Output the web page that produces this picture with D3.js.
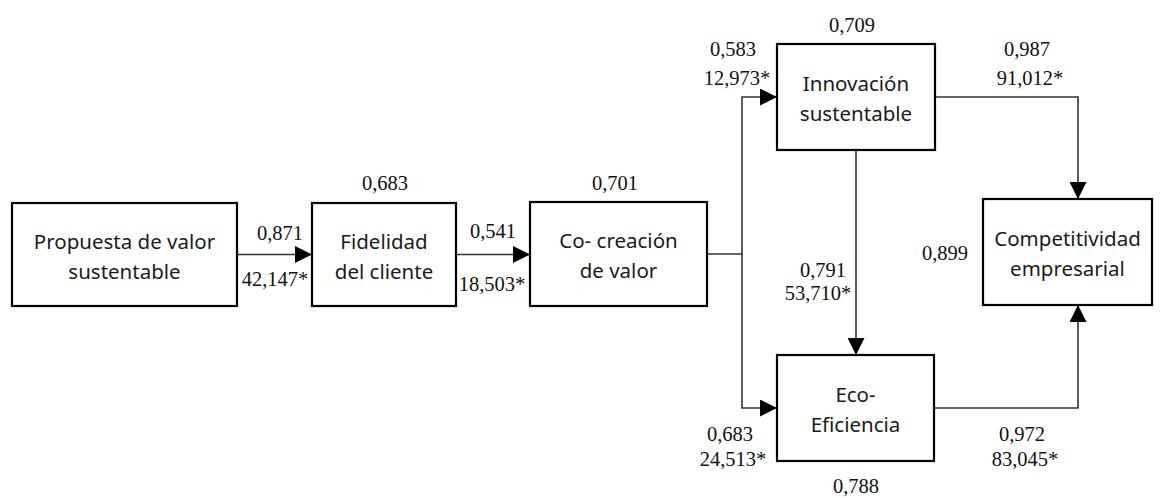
<!DOCTYPE html>
<html>
<head>
<meta charset="utf-8">
<script src="https://cdn.jsdelivr.net/npm/d3@7"></script>
<style>
	body { margin: 0; background: #fff; }
	svg { display: block; }
</style>
</head>
<body>
<div id="chart"></div>
<script>
/* global d3 */

// constructs (latent variables)
var nodeIds = ["prop", "fid", "cocre", "innov", "eco", "comp"];
var nodeLabels = [
	["Propuesta de valor", "sustentable"],
	["Fidelidad", "del cliente"],
	["Co- creación", "de valor"],
	["Innovación", "sustentable"],
	["Eco-", "Eficiencia"],
	["Competitividad", "empresarial"]
];
// R² of each construct (none for the exogenous one)
var r2Values = [null, 0.683, 0.701, 0.709, 0.788, 0.899];

// structural paths
var pathFrom = ["prop", "fid", "cocre", "cocre", "innov", "innov", "eco"];
var pathTo   = ["fid", "cocre", "innov", "eco", "eco", "comp", "comp"];
var pathBeta = [0.871, 0.541, 0.583, 0.683, 0.791, 0.987, 0.972];
var pathT    = [42.147, 18.503, 12.973, 24.513, 53.710, 91.012, 83.045];

// ---- layout (kept apart from the data) ----
var width = 1166, height = 498;

var boxes = {
	prop:  {x: 12,  y: 203, w: 225, h: 103},
	fid:   {x: 312, y: 203, w: 144, h: 103},
	cocre: {x: 530, y: 202, w: 177, h: 104},
	innov: {x: 777, y: 44,  w: 158, h: 106},
	eco:   {x: 777, y: 355, w: 157, h: 106},
	comp:  {x: 983, y: 199, w: 169, h: 106}
};

// where each R² label sits
var r2Pos = {
	fid:   {x: 385, y: 183},
	cocre: {x: 615, y: 183},
	innov: {x: 852, y: 25},
	eco:   {x: 856, y: 486},
	comp:  {x: 945, y: 253}
};

var splitX = 742, rightX = 1078;

// route (polyline) of each path + label positions for beta and t
var routes = {
	"prop-fid":    {pts: function(a, b) { return [[a.x + a.w, cy(a)], [b.x, cy(a)]]; }, beta: [280, 233], t: [275, 279]},
	"fid-cocre":   {pts: function(a, b) { return [[a.x + a.w, cy(a)], [b.x, cy(a)]]; }, beta: [493, 231], t: [492, 284]},
	"cocre-innov": {pts: function(a, b) { return [[a.x + a.w, cy(a)], [splitX, cy(a)], [splitX, cy(b)], [b.x, cy(b)]]; }, beta: [733, 49], t: [737, 78]},
	"cocre-eco":   {pts: function(a, b) { return [[splitX, cy(a)], [splitX, cy(b)], [b.x, cy(b)]]; }, beta: [730, 434], t: [733, 459]},
	"innov-eco":   {pts: function(a, b) { return [[cx(a), a.y + a.h], [cx(a), b.y]]; }, beta: [823, 270], t: [818, 293]},
	"innov-comp":  {pts: function(a, b) { return [[a.x + a.w, cy(a)], [rightX, cy(a)], [rightX, b.y]]; }, beta: [1027, 49], t: [1030, 78]},
	"eco-comp":    {pts: function(a, b) { return [[a.x + a.w, cy(a)], [rightX, cy(a)], [rightX, b.y + b.h]]; }, beta: [1022, 434], t: [1025, 459]}
};

function cx(b) { return b.x + b.w / 2; }
function cy(b) { return b.y + b.h / 2; }

var esFormat = d3.formatLocale({decimal: ",", thousands: ".", grouping: [3], currency: ["", "€"]}).format(".3f");

var svg = d3.select("#chart").append("svg")
	.attr("width", width)
	.attr("height", height);

svg.append("defs").append("marker")
	.attr("id", "arrow")
	.attr("viewBox", "0 0 17 17")
	.attr("refX", 17)
	.attr("refY", 8.5)
	.attr("markerWidth", 17)
	.attr("markerHeight", 17)
	.attr("markerUnits", "userSpaceOnUse")
	.attr("orient", "auto")
	.append("path")
	.attr("d", "M0,0 L17,8.5 L0,17 Z")
	.attr("fill", "#000");

var line = d3.line();

var paths = pathFrom.map(function(f, i) {
	return {from: f, to: pathTo[i], beta: pathBeta[i], t: pathT[i], route: routes[f + "-" + pathTo[i]]};
});

// connector lines
svg.append("g").selectAll("path")
	.data(paths)
	.join("path")
	.attr("d", function(d) { return line(d.route.pts(boxes[d.from], boxes[d.to])); })
	.attr("fill", "none")
	.attr("stroke", "#333")
	.attr("stroke-width", 1.6)
	.attr("marker-end", "url(#arrow)");

// boxes
var nodes = nodeIds.map(function(id, i) { return {id: id, lines: nodeLabels[i], r2: r2Values[i]}; });

var g = svg.append("g").selectAll("g")
	.data(nodes)
	.join("g");

g.append("rect")
	.attr("x", function(d) { return boxes[d.id].x; })
	.attr("y", function(d) { return boxes[d.id].y; })
	.attr("width", function(d) { return boxes[d.id].w; })
	.attr("height", function(d) { return boxes[d.id].h; })
	.attr("fill", "#fff")
	.attr("stroke", "#000")
	.attr("stroke-width", 2.2);

g.append("text")
	.attr("text-anchor", "middle")
	.attr("font-family", "'Noto Sans', 'Open Sans', sans-serif")
	.attr("font-size", 20.5)
	.attr("fill", "#1a1a1a")
	.selectAll("tspan")
	.data(function(d) { return d.lines.map(function(l, k) { return {text: l, k: k, b: boxes[d.id]}; }); })
	.join("tspan")
	.attr("x", function(d) { return cx(d.b); })
	.attr("y", function(d) { return cy(d.b) - 6 + d.k * 30; })
	.text(function(d) { return d.text; });

var serif = "'Liberation Serif', 'Times New Roman', serif";

// R² labels
svg.append("g").selectAll("text")
	.data(nodes.filter(function(d) { return d.r2 !== null; }))
	.join("text")
	.attr("x", function(d) { return r2Pos[d.id].x; })
	.attr("y", function(d) { return r2Pos[d.id].y; })
	.attr("dy", "0.35em")
	.attr("text-anchor", "middle")
	.attr("font-family", serif)
	.attr("font-size", 20.5)
	.attr("fill", "#111")
	.text(function(d) { return esFormat(d.r2); });

// path coefficients and t values
var lab = svg.append("g").selectAll("g")
	.data(paths)
	.join("g")
	.attr("font-family", serif)
	.attr("font-size", 20.5)
	.attr("fill", "#111")
	.attr("text-anchor", "middle");

lab.append("text")
	.attr("x", function(d) { return d.route.beta[0]; })
	.attr("y", function(d) { return d.route.beta[1]; })
	.attr("dy", "0.35em")
	.text(function(d) { return esFormat(d.beta); });

lab.append("text")
	.attr("x", function(d) { return d.route.t[0]; })
	.attr("y", function(d) { return d.route.t[1]; })
	.attr("dy", "0.35em")
	.text(function(d) { return esFormat(d.t) + "*"; });
</script>
</body>
</html>
